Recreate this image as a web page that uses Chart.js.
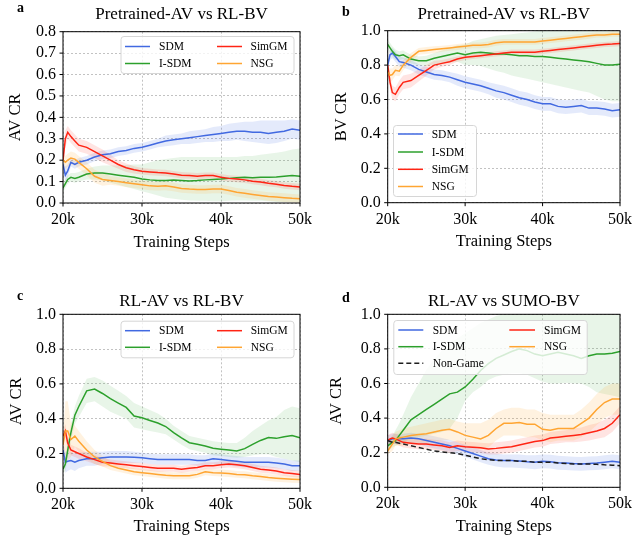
<!DOCTYPE html>
<html><head><meta charset="utf-8">
<script src="https://cdn.jsdelivr.net/npm/chart.js@4.4.1/dist/chart.umd.min.js"></script>
<style>
html,body{margin:0;padding:0;background:#fff;}
#wrap{position:relative;width:639px;height:538px;overflow:hidden;background:#fff;}
canvas{position:absolute;}
</style></head><body><div id="wrap">
<canvas id="ca" width="320" height="270" style="left:0;top:0;width:320px;height:270px"></canvas>
<canvas id="cb" width="319" height="270" style="left:320px;top:0;width:319px;height:270px"></canvas>
<canvas id="cc" width="320" height="268" style="left:0;top:270px;width:320px;height:268px"></canvas>
<canvas id="cd" width="319" height="268" style="left:320px;top:270px;width:319px;height:268px"></canvas>
</div>
<script>
// ---------- data (training steps in thousands) ----------
const steps = [20,20.3,20.6,21,21.5,22,23,24,25,26,27,28,29,30,31,32,33,34,35,36,37,38,39,40,41,42,43,44,45,46,47,48,49,50];
const yTicksA = [0,0.1,0.2,0.3,0.4,0.5,0.6,0.7,0.8];
const yTicksB = [0,0.2,0.4,0.6,0.8,1.0];

// Panel a: Pretrained-AV vs RL-BV (AV CR)
const aSDM   = [0.18,0.13,0.15,0.19,0.18,0.19,0.20,0.215,0.225,0.23,0.24,0.245,0.255,0.26,0.27,0.28,0.29,0.295,0.30,0.305,0.31,0.315,0.32,0.325,0.33,0.335,0.335,0.33,0.33,0.325,0.33,0.335,0.345,0.34];
const aSDMhi = [0.21,0.17,0.18,0.21,0.20,0.21,0.22,0.235,0.245,0.25,0.26,0.265,0.275,0.28,0.29,0.30,0.315,0.32,0.325,0.335,0.34,0.345,0.355,0.36,0.37,0.375,0.38,0.38,0.385,0.385,0.385,0.385,0.39,0.385];
const aSDMlo = [0.15,0.10,0.12,0.17,0.16,0.17,0.18,0.195,0.205,0.21,0.22,0.225,0.235,0.24,0.25,0.26,0.265,0.27,0.275,0.275,0.28,0.285,0.285,0.29,0.29,0.295,0.29,0.285,0.28,0.275,0.28,0.29,0.30,0.295];
const aISDM   = [0.07,0.09,0.11,0.12,0.115,0.12,0.135,0.14,0.14,0.135,0.13,0.125,0.12,0.112,0.108,0.105,0.105,0.107,0.105,0.103,0.105,0.108,0.11,0.112,0.115,0.118,0.12,0.118,0.12,0.12,0.122,0.125,0.128,0.125];
const aISDMhi = [0.09,0.11,0.13,0.14,0.14,0.145,0.16,0.17,0.175,0.175,0.175,0.178,0.18,0.18,0.19,0.20,0.205,0.21,0.215,0.215,0.215,0.215,0.215,0.215,0.215,0.215,0.22,0.22,0.225,0.23,0.235,0.24,0.25,0.255];
const aISDMlo = [0.05,0.07,0.09,0.10,0.095,0.10,0.11,0.11,0.105,0.095,0.085,0.075,0.065,0.055,0.045,0.035,0.025,0.02,0.015,0.012,0.01,0.01,0.008,0.008,0.01,0.012,0.012,0.01,0.01,0.008,0.005,0.005,0.005,0.003];
const aSim   = [0.20,0.30,0.33,0.31,0.29,0.27,0.26,0.24,0.22,0.20,0.18,0.165,0.155,0.148,0.145,0.142,0.14,0.135,0.13,0.128,0.125,0.128,0.128,0.12,0.115,0.112,0.108,0.102,0.098,0.092,0.088,0.082,0.078,0.075];
const aSimHi = [0.22,0.34,0.36,0.34,0.32,0.30,0.29,0.27,0.25,0.225,0.20,0.185,0.172,0.163,0.16,0.157,0.155,0.15,0.145,0.143,0.14,0.143,0.143,0.135,0.13,0.127,0.123,0.117,0.113,0.107,0.103,0.097,0.093,0.09];
const aSimLo = [0.18,0.26,0.30,0.28,0.26,0.24,0.23,0.21,0.19,0.175,0.16,0.145,0.138,0.133,0.13,0.127,0.125,0.12,0.115,0.113,0.11,0.113,0.113,0.105,0.10,0.097,0.093,0.087,0.083,0.077,0.073,0.067,0.063,0.06];
const aNSG   = [0.20,0.19,0.20,0.21,0.205,0.19,0.16,0.125,0.11,0.105,0.10,0.095,0.09,0.085,0.08,0.078,0.08,0.075,0.068,0.065,0.063,0.063,0.065,0.065,0.058,0.05,0.045,0.04,0.035,0.03,0.028,0.025,0.022,0.02];
const aNSGhi = [0.23,0.22,0.23,0.24,0.235,0.22,0.19,0.155,0.14,0.125,0.12,0.115,0.11,0.105,0.10,0.098,0.10,0.095,0.088,0.085,0.083,0.083,0.085,0.085,0.078,0.07,0.065,0.06,0.055,0.05,0.048,0.045,0.042,0.04];
const aNSGlo = [0.17,0.16,0.17,0.18,0.175,0.16,0.13,0.095,0.08,0.085,0.08,0.075,0.07,0.065,0.06,0.058,0.06,0.055,0.048,0.045,0.043,0.043,0.045,0.045,0.038,0.03,0.025,0.02,0.015,0.01,0.008,0.005,0.002,0.0];

// Panel b: Pretrained-AV vs RL-BV (BV CR)
const bSDM   = [0.80,0.86,0.87,0.85,0.82,0.815,0.80,0.775,0.76,0.745,0.74,0.73,0.715,0.70,0.69,0.68,0.665,0.65,0.64,0.625,0.61,0.60,0.585,0.575,0.575,0.56,0.555,0.56,0.565,0.55,0.55,0.545,0.535,0.54];
const bSDMhi = [0.83,0.89,0.90,0.88,0.85,0.845,0.83,0.805,0.79,0.775,0.77,0.76,0.75,0.735,0.725,0.715,0.70,0.69,0.68,0.665,0.65,0.64,0.625,0.615,0.615,0.60,0.595,0.60,0.605,0.59,0.59,0.585,0.575,0.58];
const bSDMlo = [0.77,0.83,0.84,0.82,0.79,0.785,0.77,0.745,0.73,0.715,0.71,0.70,0.68,0.665,0.655,0.645,0.63,0.61,0.60,0.585,0.57,0.56,0.545,0.535,0.535,0.52,0.515,0.52,0.525,0.51,0.51,0.505,0.495,0.50];
const bISDM   = [0.92,0.90,0.88,0.86,0.855,0.86,0.835,0.825,0.825,0.84,0.85,0.86,0.87,0.86,0.87,0.875,0.87,0.865,0.865,0.86,0.855,0.855,0.85,0.85,0.845,0.84,0.835,0.83,0.825,0.82,0.81,0.80,0.80,0.805];
const bISDMhi = [0.95,0.93,0.91,0.89,0.88,0.885,0.86,0.85,0.855,0.87,0.885,0.90,0.915,0.92,0.94,0.95,0.96,0.97,0.975,0.98,0.985,0.99,0.995,1.0,1.0,1.0,1.0,1.0,1.0,1.0,1.0,1.0,1.0,1.0];
const bISDMlo = [0.89,0.87,0.85,0.83,0.83,0.835,0.81,0.80,0.795,0.805,0.81,0.815,0.82,0.80,0.80,0.795,0.78,0.765,0.755,0.74,0.73,0.72,0.71,0.70,0.69,0.68,0.67,0.66,0.65,0.64,0.62,0.60,0.59,0.59];
const bSim   = [0.80,0.70,0.64,0.63,0.67,0.70,0.71,0.74,0.77,0.80,0.81,0.82,0.835,0.845,0.85,0.855,0.86,0.865,0.87,0.875,0.875,0.875,0.875,0.88,0.885,0.89,0.895,0.90,0.905,0.91,0.915,0.92,0.922,0.925];
const bSimHi = [0.82,0.74,0.68,0.67,0.71,0.74,0.75,0.775,0.80,0.825,0.83,0.84,0.85,0.86,0.865,0.87,0.875,0.88,0.885,0.89,0.89,0.89,0.89,0.895,0.90,0.905,0.91,0.915,0.92,0.925,0.93,0.935,0.937,0.94];
const bSimLo = [0.78,0.66,0.60,0.59,0.63,0.66,0.67,0.705,0.74,0.775,0.79,0.80,0.82,0.83,0.835,0.84,0.845,0.85,0.855,0.86,0.86,0.86,0.86,0.865,0.87,0.875,0.88,0.885,0.89,0.895,0.90,0.905,0.907,0.91];
const bNSG   = [0.76,0.74,0.745,0.77,0.765,0.80,0.845,0.88,0.885,0.89,0.895,0.90,0.905,0.91,0.915,0.915,0.92,0.93,0.935,0.935,0.935,0.935,0.935,0.94,0.945,0.95,0.955,0.96,0.965,0.97,0.975,0.975,0.98,0.98];
const bNSGhi = [0.79,0.78,0.78,0.80,0.795,0.83,0.87,0.90,0.905,0.91,0.912,0.917,0.922,0.927,0.932,0.932,0.937,0.947,0.952,0.952,0.952,0.952,0.952,0.957,0.962,0.967,0.972,0.977,0.982,0.987,0.99,0.99,0.995,0.995];
const bNSGlo = [0.73,0.70,0.71,0.74,0.735,0.77,0.82,0.86,0.865,0.87,0.878,0.883,0.888,0.893,0.898,0.898,0.903,0.913,0.918,0.918,0.918,0.918,0.918,0.923,0.928,0.933,0.938,0.943,0.948,0.953,0.96,0.96,0.965,0.965];

// Panel c: RL-AV vs RL-BV (AV CR)
const cSDM   = [0.22,0.15,0.155,0.16,0.15,0.16,0.17,0.17,0.175,0.18,0.18,0.18,0.178,0.175,0.17,0.165,0.165,0.165,0.165,0.165,0.16,0.16,0.17,0.165,0.16,0.155,0.15,0.15,0.15,0.15,0.145,0.14,0.13,0.13];
const cSDMhi = [0.26,0.21,0.21,0.21,0.20,0.205,0.21,0.21,0.21,0.215,0.215,0.215,0.21,0.205,0.20,0.195,0.195,0.195,0.195,0.195,0.19,0.19,0.20,0.195,0.19,0.185,0.18,0.18,0.18,0.18,0.175,0.17,0.16,0.16];
const cSDMlo = [0.18,0.09,0.10,0.11,0.10,0.115,0.13,0.13,0.14,0.145,0.145,0.145,0.146,0.145,0.14,0.135,0.135,0.135,0.135,0.135,0.13,0.13,0.14,0.135,0.13,0.125,0.12,0.12,0.12,0.12,0.115,0.11,0.10,0.10];
const cISDM   = [0.11,0.14,0.22,0.32,0.42,0.47,0.56,0.57,0.545,0.515,0.49,0.465,0.415,0.405,0.39,0.375,0.355,0.32,0.29,0.262,0.253,0.243,0.23,0.225,0.22,0.215,0.228,0.252,0.275,0.292,0.287,0.296,0.303,0.29];
const cISDMhi = [0.13,0.18,0.27,0.37,0.47,0.53,0.63,0.64,0.62,0.59,0.56,0.53,0.49,0.47,0.45,0.43,0.40,0.36,0.33,0.30,0.29,0.28,0.27,0.265,0.26,0.26,0.29,0.33,0.36,0.39,0.41,0.45,0.47,0.46];
const cISDMlo = [0.09,0.10,0.17,0.27,0.37,0.41,0.49,0.50,0.47,0.44,0.42,0.40,0.35,0.34,0.33,0.32,0.31,0.28,0.25,0.225,0.215,0.205,0.19,0.185,0.18,0.175,0.18,0.19,0.195,0.195,0.18,0.17,0.16,0.15];
const cSim   = [0.30,0.33,0.26,0.22,0.21,0.20,0.18,0.165,0.15,0.145,0.14,0.135,0.13,0.125,0.12,0.115,0.115,0.115,0.11,0.115,0.12,0.13,0.13,0.135,0.14,0.135,0.13,0.12,0.11,0.105,0.10,0.09,0.085,0.08];
const cSimHi = [0.33,0.37,0.30,0.25,0.24,0.23,0.205,0.19,0.175,0.165,0.16,0.155,0.15,0.145,0.14,0.135,0.135,0.135,0.13,0.135,0.14,0.15,0.15,0.155,0.16,0.155,0.15,0.14,0.13,0.125,0.12,0.11,0.105,0.10];
const cSimLo = [0.27,0.29,0.22,0.19,0.18,0.17,0.155,0.14,0.125,0.125,0.12,0.115,0.11,0.105,0.10,0.095,0.095,0.095,0.09,0.095,0.10,0.11,0.11,0.115,0.12,0.115,0.11,0.10,0.09,0.085,0.08,0.07,0.065,0.06];
const cNSG   = [0.25,0.33,0.33,0.28,0.30,0.27,0.22,0.18,0.155,0.13,0.115,0.105,0.095,0.09,0.085,0.08,0.075,0.072,0.072,0.072,0.08,0.095,0.09,0.088,0.085,0.08,0.078,0.072,0.068,0.062,0.058,0.055,0.052,0.05];
const cNSGhi = [0.30,0.50,0.50,0.38,0.36,0.33,0.27,0.22,0.185,0.155,0.135,0.125,0.115,0.11,0.105,0.10,0.095,0.092,0.092,0.092,0.10,0.115,0.11,0.108,0.105,0.10,0.098,0.092,0.088,0.082,0.078,0.075,0.072,0.07];
const cNSGlo = [0.20,0.16,0.16,0.18,0.24,0.21,0.17,0.14,0.125,0.105,0.095,0.085,0.075,0.07,0.065,0.06,0.055,0.052,0.052,0.052,0.06,0.075,0.07,0.068,0.065,0.06,0.058,0.052,0.048,0.042,0.038,0.035,0.032,0.03];

// Panel d: RL-AV vs SUMO-BV (AV CR)
const dSDM   = [0.27,0.275,0.28,0.28,0.28,0.28,0.285,0.28,0.27,0.26,0.25,0.24,0.225,0.21,0.195,0.18,0.165,0.158,0.155,0.155,0.152,0.148,0.145,0.15,0.148,0.142,0.14,0.137,0.135,0.138,0.14,0.145,0.15,0.145];
const dSDMhi = [0.30,0.305,0.31,0.31,0.31,0.31,0.315,0.31,0.305,0.295,0.285,0.275,0.26,0.245,0.23,0.215,0.20,0.195,0.19,0.19,0.19,0.185,0.185,0.19,0.188,0.182,0.18,0.177,0.175,0.178,0.18,0.185,0.19,0.185];
const dSDMlo = [0.24,0.245,0.25,0.25,0.25,0.25,0.255,0.25,0.235,0.225,0.215,0.205,0.19,0.175,0.16,0.145,0.13,0.12,0.115,0.115,0.112,0.108,0.105,0.11,0.108,0.102,0.10,0.097,0.095,0.098,0.10,0.105,0.11,0.105];
const dISDM   = [0.24,0.25,0.26,0.27,0.30,0.33,0.39,0.42,0.45,0.48,0.51,0.54,0.55,0.58,0.625,0.675,0.715,0.745,0.765,0.785,0.80,0.79,0.77,0.76,0.77,0.78,0.77,0.76,0.745,0.76,0.77,0.77,0.775,0.785];
const dISDMhi = [0.26,0.28,0.30,0.33,0.37,0.42,0.52,0.60,0.68,0.74,0.79,0.83,0.86,0.89,0.92,0.95,0.97,0.99,1,1,1,1,1,1,1,1,1,1,1,1,1,1,1,1];
const dISDMlo = [0.22,0.22,0.23,0.24,0.25,0.26,0.28,0.29,0.30,0.31,0.32,0.34,0.40,0.50,0.55,0.58,0.62,0.64,0.65,0.66,0.66,0.65,0.63,0.61,0.60,0.60,0.605,0.60,0.60,0.58,0.55,0.54,0.53,0.52];
const dSim   = [0.27,0.28,0.285,0.28,0.27,0.26,0.255,0.25,0.25,0.245,0.24,0.23,0.24,0.235,0.232,0.228,0.222,0.225,0.23,0.235,0.245,0.255,0.265,0.27,0.285,0.29,0.295,0.30,0.305,0.315,0.325,0.34,0.37,0.42];
const dSimHi = [0.30,0.31,0.315,0.31,0.30,0.29,0.285,0.28,0.28,0.275,0.27,0.26,0.27,0.265,0.262,0.258,0.255,0.26,0.265,0.27,0.28,0.29,0.30,0.305,0.32,0.325,0.33,0.34,0.345,0.36,0.37,0.39,0.42,0.47];
const dSimLo = [0.24,0.25,0.255,0.25,0.24,0.23,0.225,0.22,0.22,0.215,0.21,0.20,0.21,0.205,0.202,0.198,0.19,0.19,0.195,0.20,0.21,0.22,0.23,0.235,0.25,0.255,0.26,0.26,0.265,0.27,0.28,0.29,0.32,0.37];
const dNSG   = [0.21,0.23,0.25,0.28,0.285,0.29,0.30,0.305,0.31,0.32,0.33,0.335,0.32,0.30,0.29,0.28,0.30,0.34,0.37,0.37,0.375,0.365,0.365,0.335,0.33,0.34,0.34,0.34,0.37,0.40,0.45,0.49,0.51,0.51];
const dNSGhi = [0.23,0.26,0.29,0.32,0.33,0.34,0.35,0.36,0.37,0.38,0.39,0.395,0.38,0.37,0.37,0.37,0.39,0.43,0.45,0.46,0.46,0.45,0.45,0.43,0.42,0.42,0.42,0.42,0.45,0.49,0.54,0.58,0.60,0.60];
const dNSGlo = [0.19,0.20,0.21,0.24,0.24,0.24,0.25,0.255,0.26,0.265,0.27,0.275,0.26,0.24,0.23,0.22,0.23,0.27,0.30,0.30,0.30,0.29,0.29,0.27,0.26,0.27,0.27,0.27,0.29,0.32,0.36,0.40,0.42,0.42];
const dNon   = [0.27,0.265,0.26,0.26,0.255,0.25,0.24,0.23,0.22,0.21,0.205,0.20,0.195,0.185,0.175,0.165,0.16,0.155,0.155,0.155,0.15,0.15,0.145,0.145,0.145,0.14,0.138,0.135,0.135,0.135,0.133,0.13,0.128,0.125];

// ---------- styles ----------
const FONT = "'Liberation Serif','Times New Roman',serif";
Chart.defaults.font.family = FONT;
Chart.defaults.color = '#000';
const COL = {SDM:[65,105,225], ISDM:[44,160,44], Sim:[255,36,20], NSG:[255,165,50], Non:[30,30,30]};
const rgba = (c,a) => `rgba(${c[0]},${c[1]},${c[2]},${a})`;
const pts = arr => arr.map((v,i) => ({x: steps[i], y: v}));

function series(label, col, mean, lo, hi, order, alpha, dash) {
  const out = [];
  if (lo && hi) {
    out.push({data: pts(hi), borderWidth: 0, pointRadius: 0, fill: '+1', backgroundColor: rgba(col, alpha), order: 10 + order, isBand: true});
    out.push({data: pts(lo), borderWidth: 0, pointRadius: 0, fill: false, order: 10 + order, isBand: true});
  }
  out.push({label, data: pts(mean), borderColor: rgba(col, 1), borderWidth: 1.5, pointRadius: 0, fill: false, order, borderDash: dash || []});
  return out;
}

// ---------- plugins ----------
const framePlugin = {
  id: 'frame',
  afterDraw(chart) {
    const {ctx, chartArea: a} = chart;
    ctx.save();
    ctx.strokeStyle = '#000'; ctx.lineWidth = 1; ctx.setLineDash([]);
    ctx.strokeRect(a.left, a.top, a.right - a.left, a.bottom - a.top);
    const xs = chart.scales.x, ys = chart.scales.y;
    ctx.beginPath();
    xs.ticks.forEach(t => { const p = xs.getPixelForValue(t.value); ctx.moveTo(p, a.bottom); ctx.lineTo(p, a.bottom + 3.5); });
    ys.ticks.forEach(t => { const p = ys.getPixelForValue(t.value); ctx.moveTo(a.left - 3.5, p); ctx.lineTo(a.left, p); });
    ctx.stroke();
    const o = chart.options.plugins.frame;
    if (o && o.letter) {
      ctx.font = `bold 14px ${FONT}`; ctx.fillStyle = '#000'; ctx.textBaseline = 'alphabetic';
      ctx.fillText(o.letter, o.lx, o.ly);
    }
    ctx.restore();
  }
};
const legendPlugin = {
  id: 'boxLegend',
  afterDatasetsDraw(chart) {
    const o = chart.options.plugins.boxLegend;
    if (!o) return;
    const ctx = chart.ctx;
    ctx.save();
    ctx.beginPath();
    ctx.roundRect(o.x + 0.5, o.y + 0.5, o.w, o.h, 3);
    ctx.fillStyle = 'rgba(255,255,255,0.8)'; ctx.fill();
    ctx.strokeStyle = '#d6d6d6'; ctx.lineWidth = 1; ctx.stroke();
    ctx.font = `11.5px ${FONT}`; ctx.textBaseline = 'middle'; ctx.textAlign = 'left';
    o.cols.forEach(c => {
      c.labels.forEach((lab, r) => {
        const ds = chart.data.datasets.find(d => d.label === lab);
        const y = o.rows[r];
        ctx.strokeStyle = ds.borderColor; ctx.lineWidth = ds.borderWidth; ctx.setLineDash(ds.borderDash || []);
        ctx.beginPath(); ctx.moveTo(c.x1, y); ctx.lineTo(c.x2, y); ctx.stroke();
        ctx.setLineDash([]);
        ctx.fillStyle = '#000'; ctx.fillText(lab, c.tx, y + 0.5);
      });
    });
    ctx.restore();
  }
};

function makeChart(id, cfg) {
  const datasets = [].concat(...cfg.series);
  new Chart(document.getElementById(id), {
    type: 'line',
    data: {datasets},
    plugins: [legendPlugin, framePlugin],
    options: {
      responsive: false, animation: false, devicePixelRatio: 1,
      layout: {padding: {left: 0, right: cfg.padRight, top: 0, bottom: 0}},
      plugins: {
        legend: {display: false}, tooltip: {enabled: false},
        title: {display: true, text: cfg.title, fullSize: false, color: '#000',
                font: {size: 17, weight: 'normal', family: FONT}, padding: {top: cfg.titleTop, bottom: cfg.titleBottom}},
        boxLegend: cfg.legend,
        frame: {letter: cfg.letter, lx: cfg.lx, ly: cfg.ly},
        filler: {propagate: false}
      },
      scales: {
        x: {type: 'linear', min: 20, max: 50,
            afterFit: s => { s.height = cfg.xH; },
            ticks: {stepSize: 10, autoSkip: false, callback: v => v + 'k', font: {size: 16, family: FONT}, color: '#000', padding: 7, maxRotation: 0},
            grid: {drawTicks: false, color: '#b3b3b3', lineWidth: 0.8},
            border: {display: false, dash: [2, 2]},
            title: {display: true, text: 'Training Steps', font: {size: 16.5, family: FONT}, color: '#000', padding: {top: 0, bottom: cfg.xTitleBottom}}},
        y: {type: 'linear', min: 0, max: cfg.yMax,
            afterFit: s => { s.width = cfg.yW; },
            afterBuildTicks: s => { s.ticks = cfg.yTicks.map(v => ({value: v})); },
            ticks: {autoSkip: false, callback: v => Number(v).toFixed(1), font: {size: 16, family: FONT}, color: '#000', padding: 7},
            grid: {drawTicks: false, color: '#b3b3b3', lineWidth: 0.8},
            border: {display: false, dash: [2, 2]},
            title: {display: true, text: cfg.yTitle, font: {size: 16.5, family: FONT}, color: '#000', padding: {top: cfg.yTitleTop, bottom: 0}}}
      },
      elements: {line: {tension: 0}}
    }
  });
}

makeChart('ca', {
  title: 'Pretrained-AV vs RL-BV', yTitle: 'AV CR', yMax: 0.8, yTicks: yTicksA,
  padRight: 20, titleTop: 4.8, titleBottom: 6.5, yW: 63, yTitleTop: 5.4, xH: 67, xTitleBottom: 17.4,
  letter: 'a', lx: 17, ly: 12,
  series: [series('NSG', COL.NSG, aNSG, aNSGlo, aNSGhi, 0, 0.15),
           series('SimGM', COL.Sim, aSim, aSimLo, aSimHi, 1, 0.12),
           series('I-SDM', COL.ISDM, aISDM, aISDMlo, aISDMhi, 2, 0.11),
           series('SDM', COL.SDM, aSDM, aSDMlo, aSDMhi, 3, 0.14)],
  legend: {x: 120.5, y: 36, w: 173, h: 37, rows: [46.5, 63.5],
           cols: [{x1: 125, x2: 150, tx: 159, labels: ['SDM', 'I-SDM']}, {x1: 217, x2: 242, tx: 250.5, labels: ['SimGM', 'NSG']}]}
});
makeChart('cb', {
  title: 'Pretrained-AV vs RL-BV', yTitle: 'BV CR', yMax: 1.0, yTicks: yTicksB,
  padRight: 15, titleTop: 4.8, titleBottom: 5.5, yW: 67.7, yTitleTop: 12.1, xH: 67.3, xTitleBottom: 18.7,
  letter: 'b', lx: 22, ly: 16,
  series: [series('NSG', COL.NSG, bNSG, bNSGlo, bNSGhi, 0, 0.15),
           series('SimGM', COL.Sim, bSim, bSimLo, bSimHi, 1, 0.12),
           series('I-SDM', COL.ISDM, bISDM, bISDMlo, bISDMhi, 2, 0.11),
           series('SDM', COL.SDM, bSDM, bSDMlo, bSDMhi, 3, 0.14)],
  legend: {x: 73, y: 125, w: 83, h: 71, rows: [134, 152, 169.3, 186.5],
           cols: [{x1: 78, x2: 103, tx: 111.7, labels: ['SDM', 'I-SDM', 'SimGM', 'NSG']}]}
});
makeChart('cc', {
  title: 'RL-AV vs RL-BV', yTitle: 'AV CR', yMax: 1.0, yTicks: yTicksB,
  padRight: 20, titleTop: 21.8, titleBottom: 2.1, yW: 63, yTitleTop: 7.1, xH: 49.7, xTitleBottom: 1.7,
  letter: 'c', lx: 17, ly: 30,
  series: [series('NSG', COL.NSG, cNSG, cNSGlo, cNSGhi, 0, 0.15),
           series('SimGM', COL.Sim, cSim, cSimLo, cSimHi, 1, 0.12),
           series('I-SDM', COL.ISDM, cISDM, cISDMlo, cISDMhi, 2, 0.11),
           series('SDM', COL.SDM, cSDM, cSDMlo, cSDMhi, 3, 0.14)],
  legend: {x: 120.5, y: 50.7, w: 173, h: 36.6, rows: [60.7, 77.3],
           cols: [{x1: 125, x2: 150, tx: 159, labels: ['SDM', 'I-SDM']}, {x1: 217, x2: 242, tx: 250.7, labels: ['SimGM', 'NSG']}]}
});
makeChart('cd', {
  title: 'RL-AV vs SUMO-BV', yTitle: 'AV CR', yMax: 1.0, yTicks: yTicksB,
  padRight: 15, titleTop: 21.8, titleBottom: 2.1, yW: 67.7, yTitleTop: 7.1, xH: 50.7, xTitleBottom: 1.7,
  letter: 'd', lx: 22, ly: 32,
  series: [series('Non-Game', COL.Non, dNon, null, null, 0, 0, [5, 3]),
           series('NSG', COL.NSG, dNSG, dNSGlo, dNSGhi, 1, 0.15),
           series('SimGM', COL.Sim, dSim, dSimLo, dSimHi, 2, 0.12),
           series('I-SDM', COL.ISDM, dISDM, dISDMlo, dISDMhi, 3, 0.11),
           series('SDM', COL.SDM, dSDM, dSDMlo, dSDMhi, 4, 0.14)],
  legend: {x: 73.3, y: 50, w: 193.4, h: 54, rows: [60, 76.7, 93.3],
           cols: [{x1: 78.3, x2: 103.3, tx: 112.7, labels: ['SDM', 'I-SDM', 'Non-Game']}, {x1: 189.3, x2: 215, tx: 224, labels: ['SimGM', 'NSG']}]}
});
</script>
</body></html>
